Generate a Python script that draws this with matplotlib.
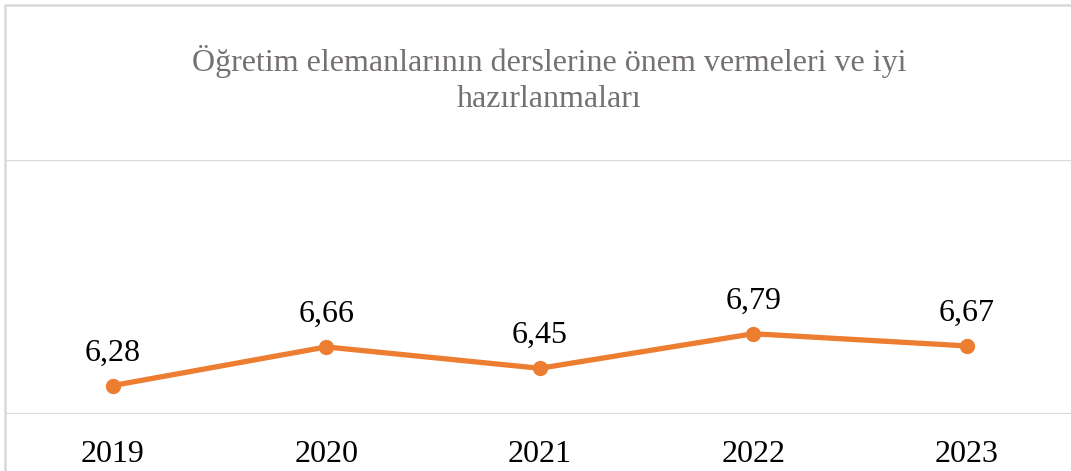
import matplotlib.pyplot as plt
from matplotlib.patches import Rectangle

years = ['2019', '2020', '2021', '2022', '2023']
scores = [6.28, 6.66, 6.45, 6.79, 6.67]
labels = ['6,28', '6,66', '6,45', '6,79', '6,67']
title = 'Öğretim elemanlarının derslerine önem vermeleri ve iyi\nhazırlanmaları'

plt.rcParams['font.family'] = ['Liberation Serif', 'DejaVu Serif']

W, H = 1071, 471
fig = plt.figure(figsize=(W / 100, H / 100), dpi=100)

# chart border (cropped on the right and bottom in the original)
fig.patches.append(Rectangle((5 / W, -0.2), 2.0, (H - 4.5) / H + 0.2,
                             transform=fig.transFigure, fill=False,
                             edgecolor='#D9D9D9', linewidth=1.8))

# plot area: x from 6 px, one category = 213.5 px
left = 6 / W
width = 5 * 213.5 / W
bottom = (H - 414) / H
top = (H - 160) / H
ax = fig.add_axes([left, bottom, width, top - bottom])

x = range(len(years))
ax.plot(x, scores, color='#ED7D31', linewidth=3.8, marker='o', markersize=10,
        solid_capstyle='round')
for i, (v, s) in enumerate(zip(scores, labels)):
    ax.annotate(s, (i, v), xytext=(0, 23.5), textcoords='offset points',
                ha='center', va='center', fontsize=23, color='black')

ax.set_xlim(-0.5, 4.5)
ax.set_ylim(6.0, 8.5)
ax.set_yticks([6.0, 8.5])
ax.yaxis.grid(True, color='#D9D9D9', linewidth=1.6)
ax.set_axisbelow(True)
ax.tick_params(axis='y', left=False, labelleft=False)
ax.set_xticks(list(x))
ax.set_xticklabels(years, fontsize=23)
ax.tick_params(axis='x', length=0, pad=19)
for sp in ax.spines.values():
    sp.set_visible(False)

fig.text(0.513, (H - 79.5) / H, title, ha='center', va='center', fontsize=23,
         color='#767171', linespacing=1.3)

fig.savefig('out.png', dpi=100)
